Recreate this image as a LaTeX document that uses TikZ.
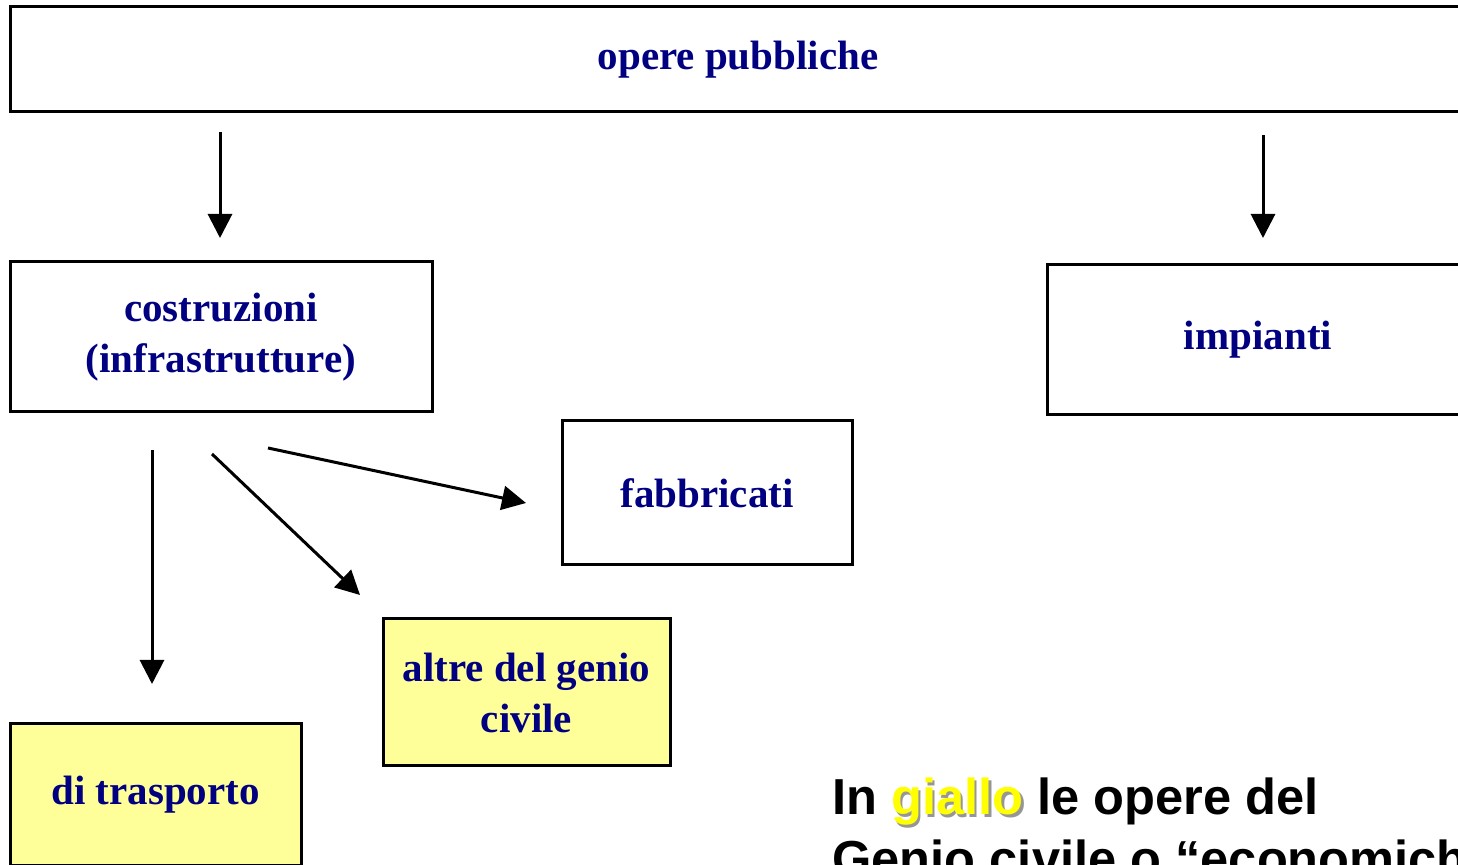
\documentclass[tikz,border=0pt]{standalone}
\usepackage{fontspec}
\setmainfont{Liberation Serif}
\newfontfamily\arialfont{Liberation Sans}
\usetikzlibrary{arrows.meta}
\definecolor{navytext}{RGB}{0,0,128}
\definecolor{paleyellow}{RGB}{255,255,153}
\definecolor{brightyellow}{RGB}{255,255,0}
\definecolor{shadowgray}{RGB}{150,150,150}
\tikzset{
  box/.style={draw=black, line width=1.5pt, rectangle, inner sep=0pt, align=center,
    text=navytext, font=\fontsize{20.5}{25.5}\selectfont\bfseries},
  ybox/.style={box, fill=paleyellow},
  arr/.style={line width=1.5pt, -{Triangle[length=12pt,width=12pt]}},
  note/.style={anchor=base west, inner sep=0pt, font=\arialfont\fontsize{25.3}{30}\selectfont\bfseries}
}
\begin{document}
\begin{tikzpicture}[x=0.5pt,y=-0.5pt]
\useasboundingbox (0,0) rectangle (1458,865);
\clip (0,0) rectangle (1458,865);
\fill[white] (0,0) rectangle (1458,865);
\node[box, minimum width=728pt, minimum height=52.5pt] (op) at (738,59.5) {opere pubbliche};
\node[box, minimum width=211pt, minimum height=75pt] (co) at (221,337) {costruzioni\\(infrastrutture)};
\node[box, minimum width=211pt, minimum height=75pt] (im) at (1258,340) {impianti};
\node[box, minimum width=145pt, minimum height=72pt] (fa) at (707,493) {fabbricati};
\node[ybox, minimum width=143.5pt, minimum height=73.5pt] (al) at (526.5,692.5) {altre del genio\\civile};
\node[ybox, minimum width=145.5pt, minimum height=71pt] (tr) at (155.5,795) {di trasporto};
\coordinate (a1s) at (220,132); \coordinate (a1e) at (220,238);
\coordinate (a2s) at (1263,135); \coordinate (a2e) at (1263,238);
\coordinate (a3s) at (152,450); \coordinate (a3e) at (152,684);
\coordinate (a4s) at (212,454); \coordinate (a4e) at (360,595);
\coordinate (a5s) at (268,448); \coordinate (a5e) at (526,503);
\draw[arr] (a1s) -- (a1e);
\draw[arr] (a2s) -- (a2e);
\draw[arr] (a3s) -- (a3e);
\draw[arr] (a4s) -- (a4e);
\draw[arr] (a5s) -- (a5e);
\node[note] (n1) at (832,815) {In \makebox[0pt][l]{\hspace{1.2pt}\raisebox{-1.2pt}{\color{shadowgray}giallo}}{\color{brightyellow}giallo} le opere del};
\node[note] (n2) at (832,877) {Genio civile o “economiche”};
\end{tikzpicture}
\end{document}
